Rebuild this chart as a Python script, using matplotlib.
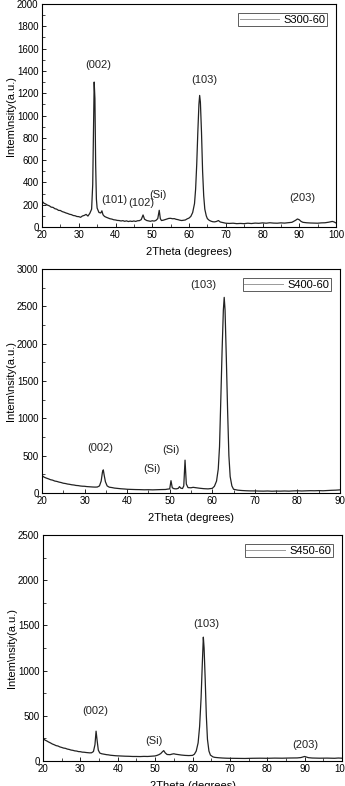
import matplotlib.pyplot as plt

plt.rcParams['font.family'] = ['Liberation Sans', 'DejaVu Sans']

# S300-60
x300 = [20, 20.5, 21, 21.5, 22, 22.5, 23, 23.5, 24, 24.5, 25, 25.5, 26, 26.5, 27, 27.5, 28, 28.5, 29, 29.5,
        30, 30.5, 31, 31.5, 32, 32.5, 33, 33.5, 33.8, 34.0, 34.2, 34.4, 34.6, 34.8, 35.0, 35.5, 36, 36.3, 36.6,
        37, 37.5, 38, 38.5, 39, 39.5, 40, 40.5, 41, 41.5, 42, 42.5, 43, 43.5, 44, 44.5, 45, 45.5, 46, 46.5,
        47, 47.5, 47.9, 48.5, 49, 49.5, 50, 50.5, 51, 51.5, 51.9, 52.2, 52.5, 53, 53.5, 54, 54.5, 55, 55.5,
        56, 56.5, 57, 57.5, 58, 58.5, 59, 59.5, 60, 60.5, 61, 61.5, 61.8, 62.1, 62.4, 62.7, 62.9, 63.1, 63.4,
        63.7, 64.0, 64.3, 64.7, 65, 65.5, 66, 66.5, 67, 67.5, 68, 68.5, 69, 69.5, 70, 71, 72, 73, 74, 75, 76,
        77, 78, 79, 80, 81, 82, 83, 84, 85, 86, 87, 88, 89, 89.5, 90, 90.5, 91, 92, 93, 94, 95, 96, 97, 98,
        99, 99.5, 100]
y300 = [232, 214, 206, 196, 190, 178, 176, 164, 160, 149, 148, 138, 133, 126, 121, 114, 111, 103, 101, 94,
        93, 87, 99, 104, 113, 98, 122, 160, 380, 820, 1300, 1150, 560, 250, 170, 130, 126, 145, 110,
        95, 87, 81, 74, 71, 65, 63, 59, 58, 54, 57, 51, 55, 49, 53, 50, 54, 50, 56, 57,
        66, 108, 70, 58, 54, 51, 56, 53, 59, 75, 150, 75, 58, 61, 66, 72, 77, 78, 74,
        75, 69, 66, 61, 58, 61, 63, 73, 80, 95, 130, 210, 340, 560, 850, 1100, 1180, 1120, 850,
        500, 280, 160, 100, 75, 60, 52, 47, 46, 50, 58, 45, 41, 36, 34, 32, 34, 30, 32, 30, 34,
        31, 35, 33, 37, 34, 38, 35, 34, 37, 35, 38, 42, 60, 72, 65, 50, 42, 38, 36, 35, 34, 37, 38, 43,
        50, 45, 36]

# S400-60
x400 = [20, 20.5, 21, 21.5, 22, 22.5, 23, 23.5, 24, 24.5, 25, 25.5, 26, 26.5, 27, 27.5, 28, 28.5, 29, 29.5,
        30, 30.5, 31, 31.5, 32, 32.5, 33, 33.5, 33.9, 34.2, 34.4, 34.6, 34.9, 35.3, 35.8, 36.5, 37, 37.5,
        38, 38.5, 39, 39.5, 40, 41, 42, 43, 44, 45, 46, 47, 48, 49, 49.5, 50, 50.3, 50.6, 51, 51.5, 52,
        52.3, 52.6, 53, 53.3, 53.6, 53.9, 54.3, 55, 55.5, 56, 57, 58, 59, 60, 60.5, 61, 61.4, 61.7, 62.0,
        62.3, 62.6, 62.8, 63.0, 63.3, 63.6, 63.9, 64.2, 64.6, 65, 66, 67, 68, 69, 70, 71, 72, 73, 74, 75,
        76, 77, 78, 79, 80, 81, 82, 83, 84, 85, 86, 87, 88, 89, 90]
y400 = [235, 212, 200, 190, 178, 172, 160, 155, 146, 140, 131, 127, 120, 116, 110, 107, 101, 99, 94, 91,
        90, 86, 84, 82, 80, 79, 80, 95, 160, 280, 310, 240, 150, 95, 78, 72, 66, 63,
        60, 57, 55, 53, 50, 48, 46, 45, 43, 44, 42, 44, 46, 47, 52, 55, 165, 70, 58, 55, 62,
        85, 65, 60, 95, 440, 120, 72, 70, 76, 72, 64, 58, 55, 62, 90, 160, 320, 620, 1250,
        1900, 2450, 2620, 2450, 1800, 1100, 500, 220, 95, 50, 38, 33, 30, 28, 28, 26, 25, 27, 24, 26,
        25, 27, 25, 28, 30, 27, 29, 31, 30, 32, 30, 33, 36, 38, 42]

# S450-60
x450 = [20, 20.5, 21, 21.5, 22, 22.5, 23, 23.5, 24, 24.5, 25, 25.5, 26, 26.5, 27, 27.5, 28, 28.5, 29, 29.5,
        30, 30.5, 31, 31.5, 32, 32.5, 33, 33.5, 33.9, 34.2, 34.5, 34.8, 35.2, 35.7, 36.5, 37, 37.5, 38,
        38.5, 39, 39.5, 40, 41, 42, 43, 44, 45, 46, 47, 48, 49, 50, 50.5, 51, 51.5, 51.9, 52.3, 52.7, 53.2,
        54, 54.5, 55, 55.5, 56, 57, 58, 59, 60, 60.5, 61, 61.5, 61.9, 62.3, 62.6, 62.9, 63.1, 63.4, 63.7,
        64.0, 64.4, 64.8, 65.5, 66, 67, 68, 69, 70, 72, 74, 76, 78, 80, 82, 84, 86, 88, 89, 90, 91, 92, 94,
        96, 98, 99, 100]
y450 = [255, 232, 222, 210, 200, 188, 180, 170, 166, 156, 150, 143, 140, 132, 128, 121, 118, 112, 110, 104,
        103, 98, 97, 94, 92, 90, 91, 105, 180, 330, 220, 120, 88, 80, 74, 70, 68, 64,
        62, 60, 58, 57, 55, 53, 52, 50, 50, 49, 51, 50, 53, 56, 62, 70, 82, 100, 115, 90, 72,
        70, 76, 80, 75, 72, 66, 62, 60, 62, 75, 110, 200, 380, 700, 1050, 1370, 1250, 900, 500,
        240, 110, 65, 45, 40, 36, 33, 31, 30, 29, 28, 30, 31, 30, 32, 31, 33, 34, 38, 50, 37, 33, 31,
        32, 30, 33, 31]

panels = [
    ('S300-60', x300, y300, (20, 100), range(20, 101, 10), 2000, 200,
     [('(002)', 35.2, 1450), ('(103)', 64.1, 1320), ('(101)', 39.6, 240), ('(102)', 46.9, 215),
      ('(Si)', 51.5, 290), ('(203)', 90.7, 260)]),
    ('S400-60', x400, y400, (20, 90), range(20, 91, 10), 3000, 500,
     [('(103)', 57.8, 2790), ('(002)', 33.6, 600), ('(Si)', 50.3, 575), ('(Si)', 45.8, 320)]),
    ('S450-60', x450, y450, (20, 100), range(20, 101, 10), 2500, 500,
     [('(103)', 63.6, 1515), ('(002)', 33.9, 555), ('(Si)', 49.7, 220), ('(203)', 90.1, 175)]),
]

fig = plt.figure(figsize=(3.45, 7.86), dpi=100)
# axes rectangles in figure fractions (left, bottom, width, height)
rects = [(42 / 345, 1 - 227 / 786, 294 / 345, 223 / 786),
         (42 / 345, 1 - 493 / 786, 298 / 345, 224 / 786),
         (43 / 345, 1 - 761 / 786, 299 / 345, 226 / 786)]

for rect, (name, xs, ys, xlim, xticks, ymax, ystep, labels) in zip(rects, panels):
    ax = fig.add_axes(rect)
    ax.plot(xs, ys, color='#222222', lw=0.9, label=name)
    ax.set_xlim(*xlim)
    ax.set_ylim(0, ymax)
    ax.set_xticks(list(xticks))
    ax.set_xticks(list(range(xlim[0] + 5, xlim[1], 10)), minor=True)
    ax.set_yticks(list(range(0, ymax + 1, ystep)))
    ax.set_yticks(list(range(ystep // 2, ymax, ystep)), minor=True)
    ax.tick_params(direction='in', labelsize=7, length=3, width=0.6, pad=2.5)
    ax.tick_params(which='minor', direction='in', length=2, width=0.5)
    for s in ax.spines.values():
        s.set_linewidth(0.8)
    ax.set_xlabel('2Theta (degrees)', fontsize=8, labelpad=5)
    ax.set_ylabel(r'Intem\nsity(a.u.)', fontsize=8, labelpad=1)
    for txt, lx, ly in labels:
        ax.text(lx, ly, txt, fontsize=8, ha='center', va='center', color='#222222')
    leg = ax.legend(loc='upper right', fontsize=8, frameon=True, fancybox=False, handlelength=3.5,
                    borderpad=0.15, handletextpad=0.4, borderaxespad=0.8)
    leg.get_frame().set_edgecolor('#333333')
    leg.get_frame().set_linewidth(0.7)
    for h in leg.get_lines():
        h.set_color('#999999')
        h.set_linewidth(0.7)

fig.savefig('out.png', dpi=100)
